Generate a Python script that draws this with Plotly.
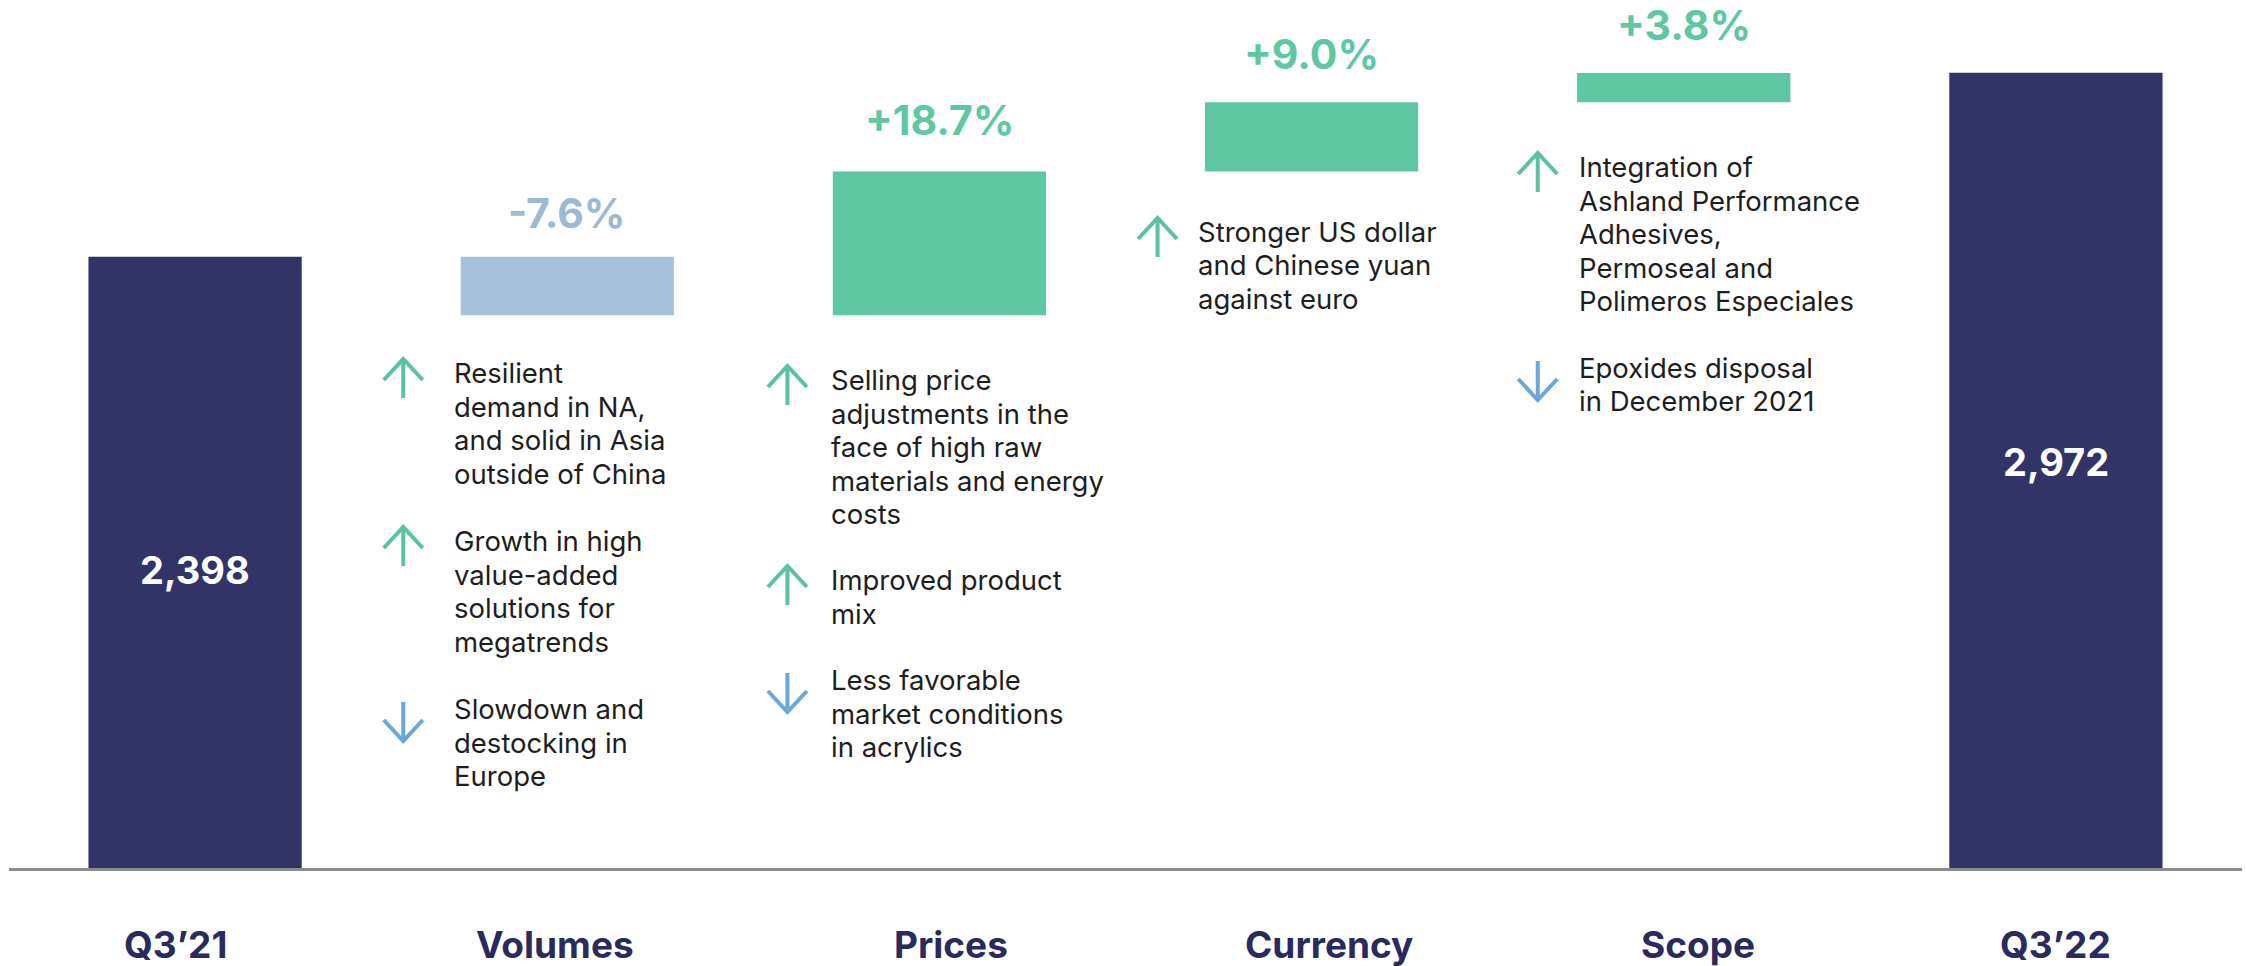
import plotly.graph_objects as go

# ---------------- data ----------------
categories = ["Q3\u201921", "Volumes", "Prices", "Currency", "Scope", "Q3\u201922"]
measures = ["absolute", "relative", "relative", "relative", "relative", "absolute"]
values = [2398, -182, 448, 216, 91, 2972]
change_labels = ["-7.6%", "+18.7%", "+9.0%", "+3.8%"]
total_labels = ["2,398", "2,972"]

volumes_notes = [
    ("up", ["Resilient", "demand in NA,", "and solid in Asia", "outside of China"]),
    ("up", ["Growth in high", "value-added", "solutions for", "megatrends"]),
    ("down", ["Slowdown and", "destocking in", "Europe"]),
]
prices_notes = [
    ("up", ["Selling price", "adjustments in the", "face of high raw", "materials and energy", "costs"]),
    ("up", ["Improved product", "mix"]),
    ("down", ["Less favorable", "market conditions", "in acrylics"]),
]
currency_notes = [
    ("up", ["Stronger US dollar", "and Chinese yuan", "against euro"]),
]
scope_notes = [
    ("up", ["Integration of", "Ashland Performance", "Adhesives,", "Permoseal and", "Polimeros Especiales"]),
    ("down", ["Epoxides disposal", "in December 2021"]),
]

# ---------------- styles / layout ----------------
W, H = 2246, 966
ML, MR, MT, MB = 9, 4, 0, 98
PH = H - MT - MB
Y_RANGE = [492, 3199]

NAVY = "#323366"
CAT_NAVY = "#2A2A5E"
GREEN = "#5FC8A3"
LIGHTBLUE = "#A6C2DA"
LABEL_BLUE = "#9DB9D3"
ARROW_UP = "#5CC29E"
ARROW_DOWN = "#6CA7DB"
TEXT = "#1E1E1E"
FONT = "Inter"

# (category, notes, first-line centre px from top, text x offset px, arrow x offset px)
note_blocks = [
    ("Volumes", volumes_notes, [373, 541, 709], -115, -164),
    ("Prices", prices_notes, [380, 580, 680], -110, -152),
    ("Currency", currency_notes, [232], -116, -154),
    ("Scope", scope_notes, [167, 368], -107, -146),
]
LINE_PITCH = 33.5
NOTE_SIZE = 27.5
change_label_shift = [44, 52, 48, 48]
total_label_shift = [-8, 8]
cat_label_shift = [-20, -12, 12, 17, 14, 0]
CAT_LABEL_Y = 945

ARROW_LEN = 39
HEAD_HALF = 19.5
HEAD_LEN = 21


def arrow_path(dx, direction):
    # path in pixels relative to the arrow tip (positive y is up)
    s = -1 if direction == "up" else 1
    return (f"M{dx},0 L{dx},{s * ARROW_LEN} "
            f"M{dx - HEAD_HALF},{s * HEAD_LEN} L{dx},0 L{dx + HEAD_HALF},{s * HEAD_LEN}")


fig = go.Figure(
    go.Waterfall(
        x=categories,
        measure=measures,
        y=values,
        increasing=dict(marker=dict(color=GREEN)),
        decreasing=dict(marker=dict(color=LIGHTBLUE)),
        totals=dict(marker=dict(color=NAVY)),
        connector=dict(visible=False),
        textinfo="none",
        hoverinfo="skip",
    )
)

annotations = []
shapes = []

# change labels above relative bars, total labels inside total bars
run = 0
ci = 0
ti = 0
for cat, m, v in zip(categories, measures, values):
    if m == "absolute":
        run = v
        annotations.append(dict(
            x=cat, y=v / 2 + Y_RANGE[0] / 2, xref="x", yref="y",
            text=total_labels[ti], showarrow=False,
            yshift=total_label_shift[ti],
            font=dict(family=FONT, size=38, color="white", weight="bold"),
            xanchor="center", yanchor="middle",
        ))
        ti += 1
    else:
        start, end = run, run + v
        top = max(start, end)
        col = GREEN if v > 0 else LABEL_BLUE
        annotations.append(dict(
            x=cat, y=top, xref="x", yref="y",
            text=change_labels[ci], showarrow=False,
            yshift=change_label_shift[ci],
            font=dict(family=FONT, size=41, color=col, weight="bold"),
            xanchor="center", yanchor="middle",
        ))
        ci += 1
        run = end

# category labels under the axis
for cat, dx in zip(categories, cat_label_shift):
    annotations.append(dict(
        x=cat, xref="x", xshift=dx,
        y=1 - CAT_LABEL_Y / PH, yref="paper",
        text=cat, showarrow=False,
        xanchor="center", yanchor="middle",
        font=dict(family=FONT, size=37, color=CAT_NAVY, weight="bold"),
    ))

# explanatory notes with arrows
for cat, notes, firsts, txt_dx, arr_dx in note_blocks:
    for (direction, lines), first in zip(notes, firsts):
        for i, line in enumerate(lines):
            cy = first + i * LINE_PITCH
            annotations.append(dict(
                x=cat, xref="x", xshift=txt_dx,
                y=1 - cy / PH, yref="paper",
                text=line, showarrow=False,
                xanchor="left", yanchor="middle",
                font=dict(family=FONT, size=NOTE_SIZE, color=TEXT),
            ))
        tip = first - 14 if direction == "up" else first + 32
        shapes.append(dict(
            type="path", path=arrow_path(arr_dx, direction),
            xref="x", xsizemode="pixel", xanchor=cat,
            yref="paper", ysizemode="pixel", yanchor=1 - tip / PH,
            line=dict(color=ARROW_UP if direction == "up" else ARROW_DOWN, width=4),
        ))

fig.update_layout(
    width=W, height=H,
    margin=dict(l=ML, r=MR, t=MT, b=MB),
    paper_bgcolor="white", plot_bgcolor="white",
    showlegend=False,
    waterfallgap=0.427,
    annotations=annotations,
    shapes=shapes,
    xaxis=dict(
        showline=True, linecolor="#8C8C8C", linewidth=3,
        showgrid=False, zeroline=False, ticks="",
        showticklabels=False,
        fixedrange=True,
    ),
    yaxis=dict(visible=False, range=Y_RANGE, fixedrange=True),
)

fig.write_html(
    "out.html",
    config={"displayModeBar": False},
    post_script="document.body.style.margin='0px';",
)
